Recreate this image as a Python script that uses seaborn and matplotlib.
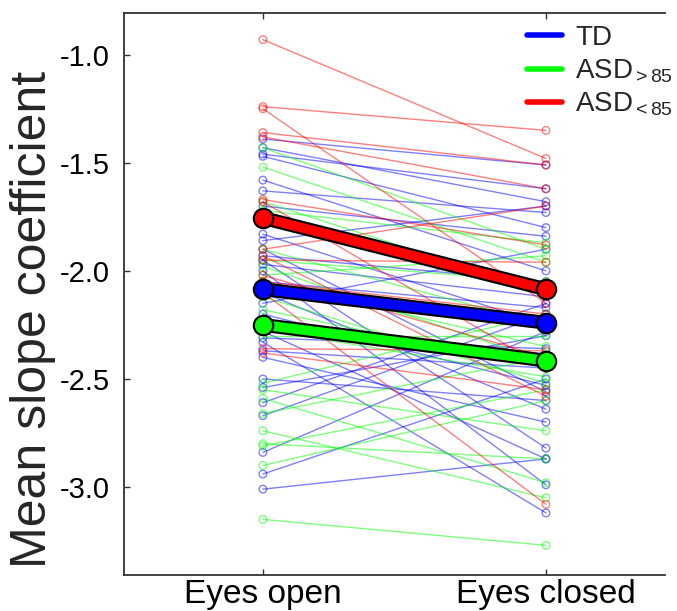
import numpy as np
import pandas as pd
import matplotlib
matplotlib.use("Agg")
import matplotlib.pyplot as plt
import matplotlib.patheffects as pe
from matplotlib.lines import Line2D
import seaborn as sns

conditions = ["Eyes open", "Eyes closed"]
groups = ["TD", "ASD>85", "ASD<85"]
legend_labels = ["TD", r"ASD$_\mathregular{>85}$", r"ASD$_\mathregular{<85}$"]
group_colors = {"TD": "#0000ff", "ASD>85": "#00ff00", "ASD<85": "#ff0000"}

td_open = [-1.39, -1.43, -1.46, -1.47, -1.58, -1.63, -1.70, -1.83, -1.86, -1.90,
           -1.93, -1.95, -1.97, -2.00, -2.05, -2.10, -2.15, -2.20, -2.28, -2.31,
           -2.33, -2.37, -2.40, -2.50, -2.54, -2.61, -2.67, -2.84, -2.94, -3.01]
td_closed = [-1.51, -1.68, -1.62, -1.80, -2.00, -1.73, -1.84, -2.25, -1.70, -2.56,
             -2.05, -2.82, -2.12, -2.99, -2.17, -2.64, -1.90, -2.53, -2.87, -2.36,
             -3.12, -2.45, -2.70, -2.60, -2.30, -2.15, -2.20, -2.28, -2.50, -2.87]

asd_hi_open = [-1.43, -1.52, -1.68, -1.72, -1.90, -1.95, -1.98, -2.02, -2.05, -2.12, -2.18,
               -2.27, -2.30, -2.52, -2.55, -2.59, -2.66, -2.74, -2.80, -2.81, -2.90, -3.15]
asd_hi_closed = [-1.90, -1.96, -2.10, -1.87, -2.25, -2.05, -2.42, -1.93, -2.35, -2.52, -2.45,
                 -2.49, -2.30, -2.20, -2.74, -2.98, -2.40, -3.05, -2.87, -2.55, -2.60, -3.27]

asd_lo_open = [-0.93, -1.24, -1.25, -1.36, -1.38, -1.67, -1.68, -1.90, -1.93, -1.95,
               -2.05, -2.10, -2.36, -2.38, -2.02]
asd_lo_closed = [-1.48, -1.35, -2.15, -1.51, -1.62, -1.88, -2.45, -1.70, -2.58, -1.96,
                 -2.20, -3.08, -2.37, -2.55, -2.40]

mean_td = [-2.085, -2.24]
mean_asd_hi = [-2.25, -2.415]
mean_asd_lo = [-1.755, -2.085]

rows = []
sid = 0
for g, op, cl in [("TD", td_open, td_closed),
                  ("ASD>85", asd_hi_open, asd_hi_closed),
                  ("ASD<85", asd_lo_open, asd_lo_closed)]:
    for a, b in zip(op, cl):
        rows.append({"subject": sid, "group": g, "x": 0, "value": a})
        rows.append({"subject": sid, "group": g, "x": 1, "value": b})
        sid += 1
df = pd.DataFrame(rows)

means = pd.DataFrame({
    "group": ["TD", "TD", "ASD>85", "ASD>85", "ASD<85", "ASD<85"],
    "x": [0, 1, 0, 1, 0, 1],
    "value": mean_td + mean_asd_hi + mean_asd_lo,
})

sns.set_style("white")
plt.rcParams["font.family"] = ["Liberation Sans", "DejaVu Sans"]
plt.rcParams["mathtext.fontset"] = "custom"
plt.rcParams["mathtext.rm"] = "Liberation Sans"
plt.rcParams["mathtext.it"] = "Liberation Sans:italic"
plt.rcParams["mathtext.bf"] = "Liberation Sans:bold"

fig = plt.figure(figsize=(6.77, 6.11), dpi=100)
ax = fig.add_axes([0.183, 0.059, 0.799, 0.920])

# individual subjects
sns.lineplot(data=df, x="x", y="value", hue="group", units="subject", estimator=None,
             palette=group_colors, hue_order=groups, alpha=0.5, linewidth=1.0,
             legend=False, ax=ax)
for g in groups:
    sub = df[df["group"] == g]
    ax.scatter(sub["x"], sub["value"], s=30, facecolors="none",
               edgecolors=group_colors[g], linewidths=1.0, alpha=0.5, zorder=3)

# group means
for g in ["ASD<85", "TD", "ASD>85"]:
    sub = means[means["group"] == g]
    sns.lineplot(data=sub, x="x", y="value", color=group_colors[g], linewidth=7,
                 legend=False, ax=ax, zorder=5,
                 path_effects=[pe.Stroke(linewidth=10, foreground="black"), pe.Normal()])
    ax.plot(sub["x"], sub["value"], linestyle="none", marker="o", markersize=14,
            markerfacecolor=group_colors[g], markeredgecolor="black",
            markeredgewidth=1.5, zorder=6)

ax.set_xlim(-0.491, 1.42)
ax.set_ylim(-3.407, -0.806)
ax.set_xticks([0, 1])
ax.set_xticklabels(conditions, fontsize=24)
ax.set_yticks([-1.0, -1.5, -2.0, -2.5, -3.0])
ax.set_yticklabels(["-1.0", "-1.5", "-2.0", "-2.5", "-3.0"], fontsize=21)
ax.set_xlabel("")
ax.set_ylabel("Mean slope coefficient", fontsize=36)
ax.yaxis.set_label_coords(-0.125, 0.454)
ax.tick_params(direction="in", length=4, width=1, top=True, left=True, bottom=True,
               colors="#333333", labelcolor="black")
ax.tick_params(axis="x", pad=3)
ax.tick_params(axis="y", pad=10)
for s in ["left", "bottom", "top"]:
    ax.spines[s].set_color("#333333")
    ax.spines[s].set_linewidth(1.3)
ax.spines["right"].set_visible(False)

handles = [Line2D([0], [0], color=group_colors[g], linewidth=4) for g in groups]
ax.legend(handles, legend_labels, loc="upper left", frameon=False, fontsize=20,
          handlelength=1.25, handletextpad=0.5, labelspacing=0.22,
          borderaxespad=0.0, borderpad=0.0, bbox_to_anchor=(0.745, 0.978))

fig.savefig("out.png", dpi=100)
